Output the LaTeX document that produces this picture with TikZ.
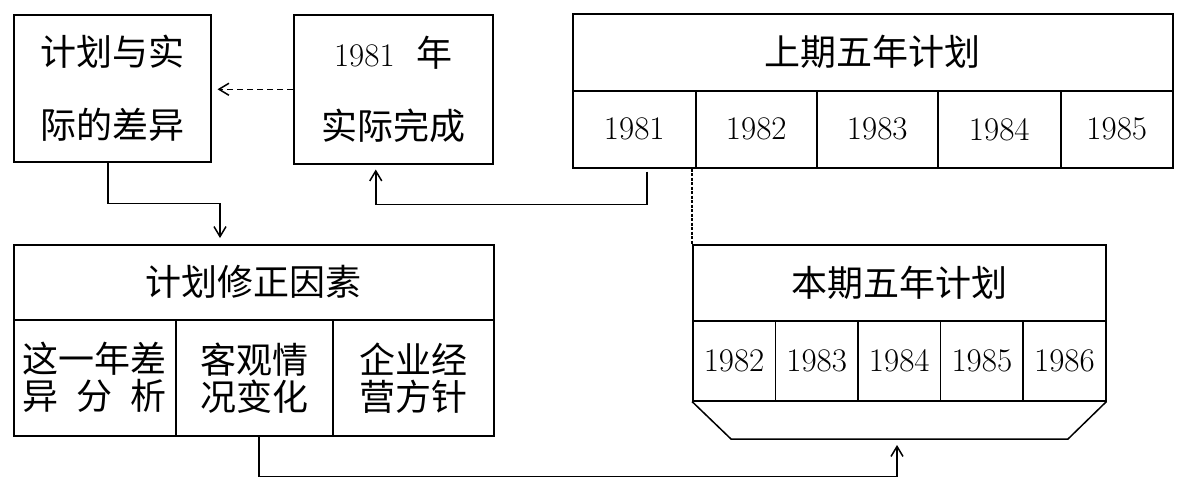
\documentclass[tikz,border=0pt]{standalone}
\usepackage{fontspec}
\newfontfamily\cjk{Noto Sans CJK SC}
\usetikzlibrary{arrows.meta}

\tikzset{
  box/.style={draw, line width=1.5pt, inner sep=0pt, anchor=north west, align=center},
  zh/.style={font=\fontsize{36}{40}\selectfont\cjk},
  yr/.style={font=\fontsize{33}{36}\selectfont},
  link/.style={line width=1.5pt, -{Straight Barb[length=10pt,width=12pt,line width=1.5pt]}},
}

\begin{document}
\begin{tikzpicture}[x=1pt,y=-1pt]
\useasboundingbox (0,0) rectangle (1183,477);

%The two small boxes at the top left
\node[box, minimum width=197pt, minimum height=147pt, font=\fontsize{36}{73}\selectfont\cjk] (diff) at (13,14) {计划与实\\际的差异};
\node[box, minimum width=199pt, minimum height=149pt, font=\fontsize{36}{73}\selectfont] (actual) at (293,14) {{\fontsize{33}{73}\selectfont 1981}\ \ {\cjk 年}\\{\cjk 实际完成}};

%Last five year plan with its years
\node[box, zh, minimum width=600pt, minimum height=77pt] (last) at (572,13) {上期五年计划};
\foreach \yr/\xa/\w in {1981/572/123, 1982/695/121, 1983/816/121, 1984/937/123, 1985/1060/112}
  \node[box, yr, minimum width=\w pt, minimum height=77pt] (last-\yr) at (\xa,90) {\yr};

%Correction factors
\node[box, zh, minimum width=480pt, minimum height=75pt] (factor) at (13,244) {计划修正因素};
\foreach \name/\xa/\w/\txt in {gap/13/162/{这一年差\\\makebox[4em][s]{异\hfill 分\hfill 析}}, cond/175/157/{客观情\\况变化}, policy/332/161/{企业经\\营方针}}
  \node[box, minimum width=\w pt, minimum height=116pt, font=\fontsize{36}{37}\selectfont\cjk] (factor-\name) at (\xa,319) {\txt};

%This five year plan, years and the tray under it
\node[box, zh, minimum width=413pt, minimum height=76pt] (this) at (692,244) {本期五年计划};
\foreach \yr [count=\i from 0] in {1982,...,1986}
  \node[box, yr, minimum width=82.6pt, minimum height=80pt] (this-\yr) at ({692+82.6*\i},320) {\yr};
\coordinate (trayL) at (731,439);
\coordinate (trayR) at (1068,439);
\coordinate (trayIn) at (897,439);
\draw[line width=1.5pt] (this-1982.south west) -- (trayL) -- (trayR) -- (this-1986.south east);

%Connectors
\draw[link, dash pattern=on 6pt off 4pt, shorten >=6pt] (actual.west) -- (actual.west -| diff.east);
\draw[link, shorten >=6pt] ([xshift=-4.5pt]diff.south) -- ++(0,41) -| ([xshift=207pt]factor.north west);
\draw[link, shorten <=3pt, shorten >=5pt] ([xshift=12.5pt]last-1981.south) -- ++(0,36) -| ([xshift=-17.5pt]actual.south);
\draw[line width=2.2pt, dash pattern=on 3pt off 1.5pt] (this.north west |- last-1982.south) -- (this.north west);
\draw[link, shorten >=6pt] ([xshift=4.5pt]factor-cond.south) -- ++(0,40) -| (trayIn);
\end{tikzpicture}
\end{document}
